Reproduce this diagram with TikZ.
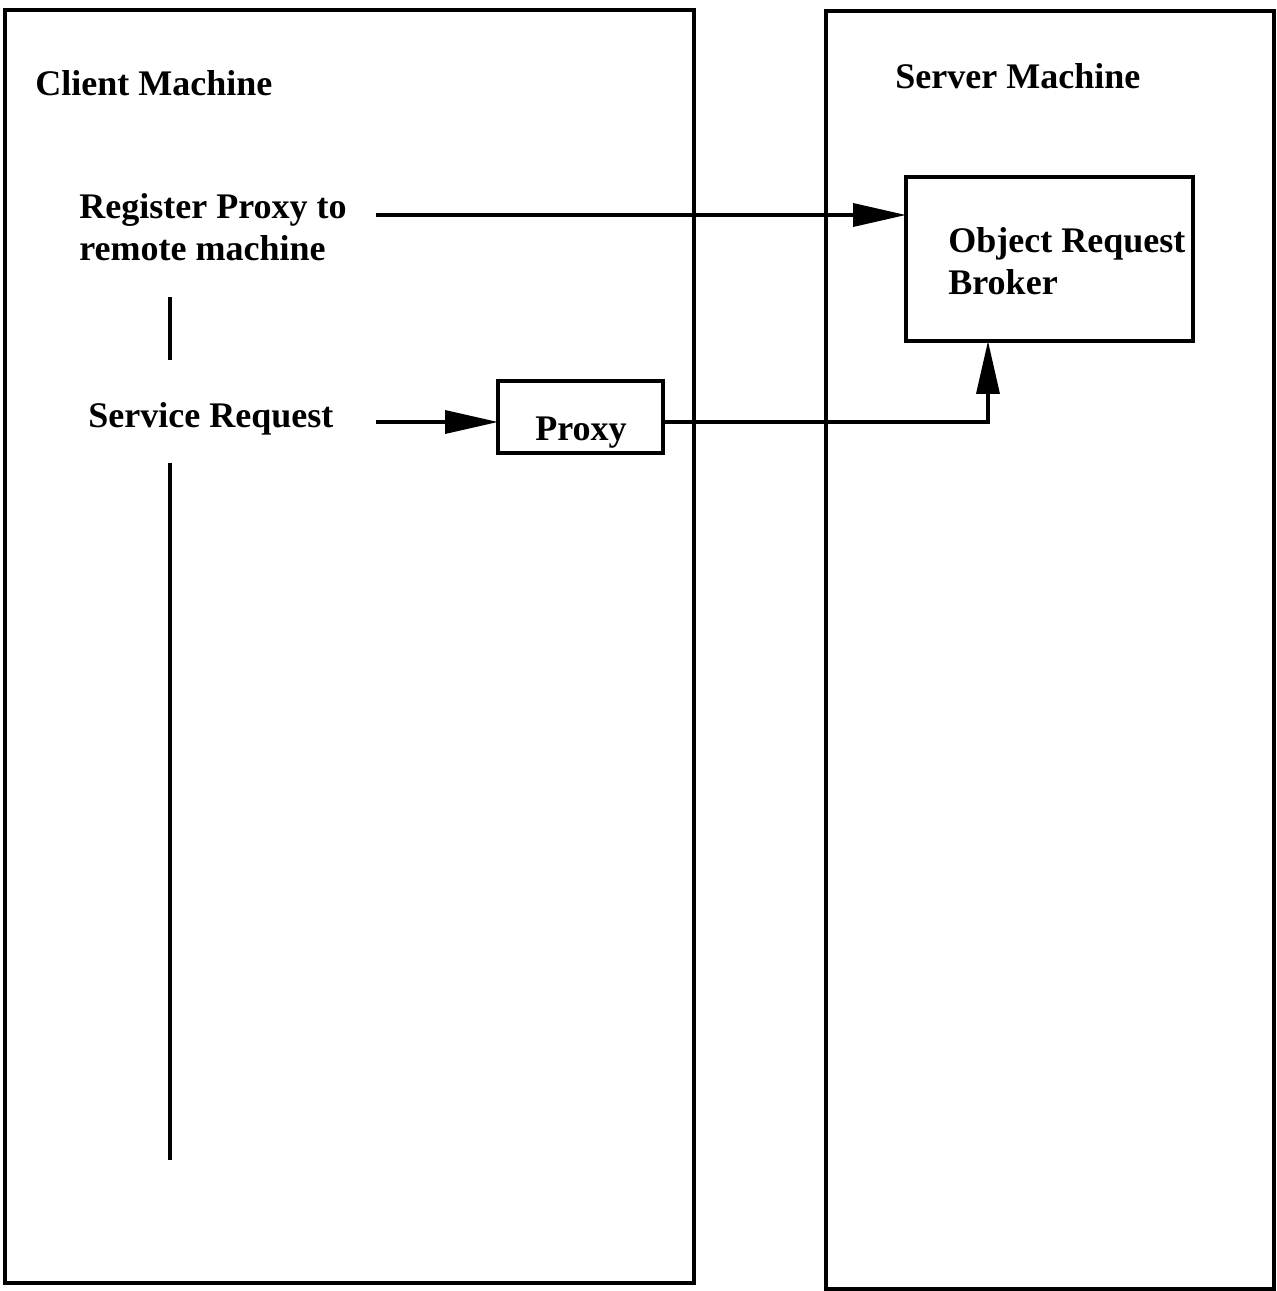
\documentclass[tikz,border=0pt]{standalone}
\usepackage{fontspec}
\setmainfont{Liberation Serif}
\usetikzlibrary{arrows.meta}
\begin{document}
\begin{tikzpicture}[x=0.02cm,y=-0.02cm,
  frame/.style={draw,line width=2.1pt,inner sep=0pt,outer sep=0pt},
  label/.style={anchor=base west,inner sep=0pt,font=\fontsize{20.5}{24}\selectfont\bfseries},
  link/.style={line width=2pt},
  flow/.style={link,-{Triangle[length=1.06cm,width=0.46cm]}}]
  \useasboundingbox (0,0) rectangle (1277,1291);
  % machine frames
  \node[frame,minimum width=13.78cm,minimum height=25.46cm,anchor=north west] (client) at (5,10) {};
  \node[frame,minimum width=8.96cm,minimum height=25.56cm,anchor=north west] (server) at (826,11) {};
  % titles
  \node[label] (ctitle) at (35,95) {Client Machine};
  \node[label] (stitle) at (895,89) {Server Machine};
  % client side steps
  \node[label] (reg) at (79,218) {Register Proxy to};
  \node[label] (reg2) at (79,260) {remote machine};
  \node[label] (svc) at (88,427) {Service Request};
  % boxes
  \node[frame,minimum width=5.74cm,minimum height=3.28cm,anchor=north west] (orb) at (906,177) {};
  \node[label] (orbtext) at (948,252) {Object Request};
  \node[label] (orbtext2) at (948,294) {Broker};
  \node[frame,minimum width=3.3cm,minimum height=1.44cm,anchor=north west] (proxy) at (498,381) {};
  \node[label,anchor=base] (ptext) at (581,440) {Proxy};
  % timeline segments
  \coordinate (t1) at (170,297);
  \coordinate (t2) at (170,360);
  \coordinate (t3) at (170,463);
  \coordinate (t4) at (170,1160);
  \draw[link] (t1) -- (t2);
  \draw[link] (t3) -- (t4);
  % connectors
  \coordinate (regout) at (376,215);
  \coordinate (svcout) at (376,422);
  \draw[flow] (regout) -- (orb.west |- regout);
  \draw[flow] (svcout) -- (proxy.west |- svcout);
  \draw[flow] (proxy.east |- svcout) -| ([xshift=1.64cm]orb.south west);
\end{tikzpicture}
\end{document}
